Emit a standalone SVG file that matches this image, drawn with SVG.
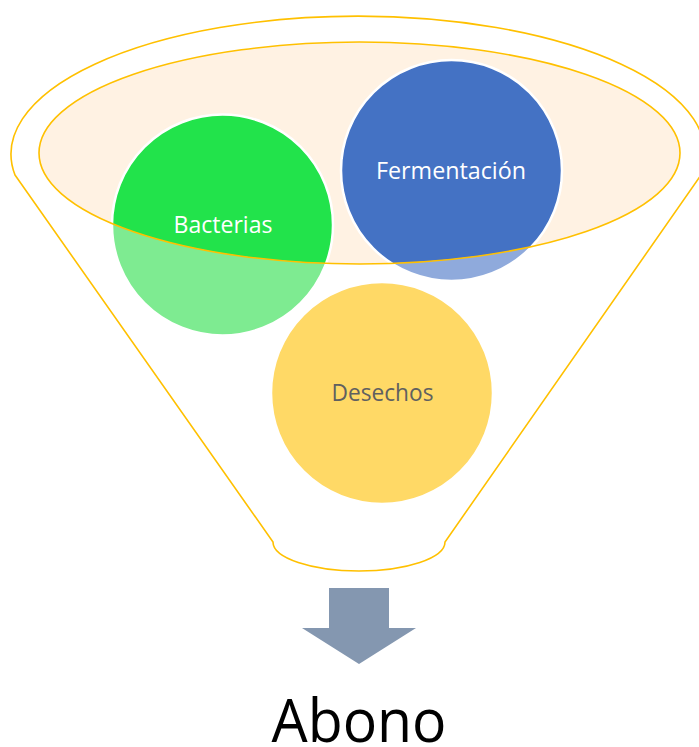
<svg xmlns="http://www.w3.org/2000/svg" width="699" height="747" viewBox="0 0 699 747">
<style>
.gold{stroke:#FFC000;stroke-width:1.6;}
.circ{stroke:#FFFFFF;stroke-width:2.5;}
.lbl{font-family:"Open Sans","Liberation Sans",sans-serif;font-size:23px;text-anchor:middle;}
</style>
<defs>
<clipPath id="inner"><ellipse cx="359.5" cy="153" rx="320.5" ry="111"/></clipPath>
</defs>
<rect width="699" height="747" fill="#FFFFFF"/>
<g id="funnel">
<path class="gold" fill="#FFFFFF" d="M15,175 L273,542 A86,29 0 0 0 445,542 L701,175 A347,138 0 1 0 15,175 Z"/>
</g>
<g id="lower-parts">
<circle cx="222.5" cy="225" r="110.5" fill="#7EEB91" class="circ"/>
<circle cx="451.5" cy="170.5" r="110.5" fill="#8FAADC" class="circ"/>
</g>
<g id="inner-ellipse">
<ellipse cx="359.5" cy="153" rx="320.5" ry="111" fill="#FFF2E3"/>
</g>
<g id="bacterias">
<circle cx="222.5" cy="225" r="110.5" fill="#22E34B" class="circ" clip-path="url(#inner)"/>
<text class="lbl" x="223" y="232.5" fill="#FFFFFF" textLength="99" lengthAdjust="spacingAndGlyphs">Bacterias</text>
</g>
<g id="fermentacion">
<circle cx="451.5" cy="170.5" r="110.5" fill="#4472C4" class="circ" clip-path="url(#inner)"/>
<text class="lbl" x="451" y="179" fill="#FFFFFF" textLength="150" lengthAdjust="spacingAndGlyphs">Fermentación</text>
</g>
<g id="inner-ellipse-outline">
<ellipse cx="359.5" cy="153" rx="320.5" ry="111" fill="none" class="gold"/>
</g>
<g id="desechos">
<circle cx="382" cy="393" r="111" fill="#FFD966" class="circ"/>
<text class="lbl" x="382.5" y="400.5" fill="#606060" textLength="102" lengthAdjust="spacingAndGlyphs">Desechos</text>
</g>
<g id="connectors">
<path d="M329,588 H389 V628 H416 L359,664 L302,628 H329 Z" fill="#8497B0"/>
</g>
<g id="abono">
<text x="359" y="742" font-family="'Open Sans','Liberation Sans',sans-serif" font-size="60" text-anchor="middle" fill="#000000" textLength="175" lengthAdjust="spacingAndGlyphs">Abono</text>
</g>
</svg>
